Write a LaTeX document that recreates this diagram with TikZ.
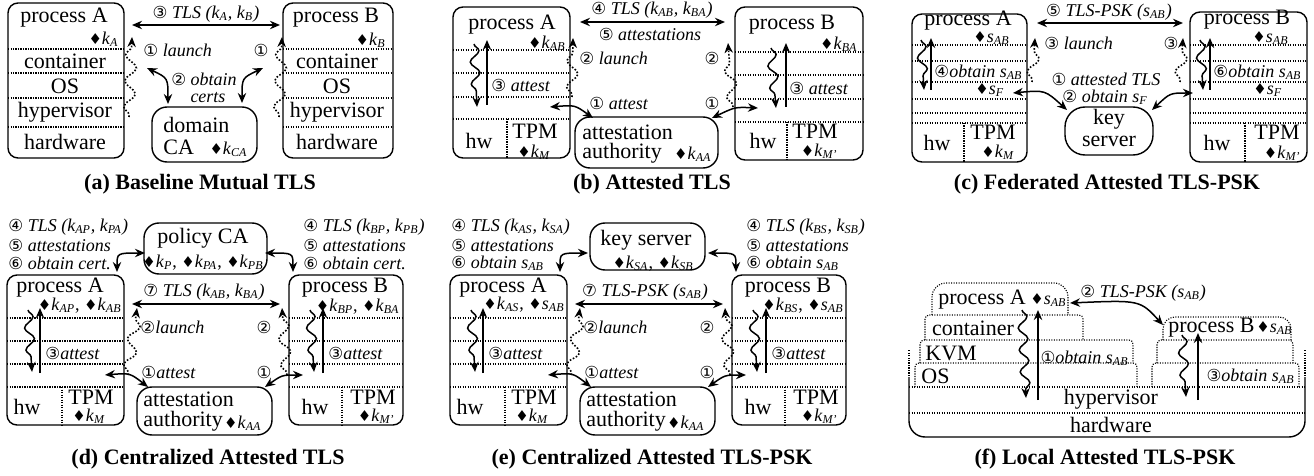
\documentclass[tikz,border=0pt]{standalone}
\usepackage{fontspec}
\setmainfont{Liberation Serif}
\newfontfamily\symfont{DejaVu Sans}
\usetikzlibrary{arrows.meta,decorations.pathmorphing}
\newcommand{\cn}[1]{{\symfont\upshape\fontsize{8.3}{8}\selectfont #1}}
\newcommand{\dm}{{\symfont\upshape\fontsize{7.5}{7}\selectfont ♦}}
\newcommand{\ky}[2]{\textit{#1}\textsubscript{\textit{#2}}}
\newcommand{\dk}[2]{{\fontsize{9}{10}\selectfont\dm\ky{#1}{#2}}}
\tikzset{
  box/.style={line width=0.7pt, rounded corners=5pt},
  layer/.style={line width=0.55pt, dash pattern=on 0.55pt off 0.7pt},
  txt/.style={font=\fontsize{11}{12}\selectfont, inner sep=0pt},
  lbl/.style={font=\fontsize{9}{10}\selectfont\itshape, inner sep=0pt},
  kys/.style={font=\fontsize{9}{10}\selectfont, inner sep=0pt},
  captxt/.style={font=\fontsize{11}{12}\selectfont\bfseries, inner sep=0pt},
  arr/.style={line width=0.75pt, -{Stealth[length=5pt,width=4.2pt]}},
  darr/.style={line width=0.75pt, {Stealth[length=5pt,width=4.2pt]}-{Stealth[length=5pt,width=4.2pt]}},
  wavy/.style={arr, decorate, decoration={snake, amplitude=2.3pt, segment length=11pt, post length=3pt}},
  launch/.style={arr, line width=0.8pt, dash pattern=on 0.8pt off 0.9pt, decorate, decoration={snake, amplitude=2.8pt, segment length=13pt, pre length=1pt, post length=4pt}}
}
% shared part of panels (d) and (e)
\newcommand{\centralbase}[1]{%
  \draw[box] (7,275) rectangle (124,425);
  \foreach \y in {318,341,364,387} \draw[layer] (7,\y) -- (124,\y);
  \draw[layer] (62,387) -- (62,425);
  \node[txt] (#1PA) at (60,288) {process A};
  \node[txt] (#1HWA) at (27,407) {hw};
  \node[txt] (#1TPMA) at (91,397) {TPM};
  \node[kys,anchor=east] (#1KMA) at (106,416) {\dk{k}{M}};
  \draw[wavy] (28,310) -- (32,372);
  \draw[arr] (40,373) -- (40,308);
  \node[lbl,anchor=west] (#1ATA) at (45,353) {\cn{③}attest};
  \draw[box] (289,275) rectangle (403,425);
  \foreach \y in {318,341,364,387} \draw[layer] (289,\y) -- (403,\y);
  \draw[layer] (342,387) -- (342,425);
  \node[txt] (#1PB) at (345,288) {process B};
  \node[txt] (#1HWB) at (315,407) {hw};
  \node[txt] (#1TPMB) at (373,397) {TPM};
  \node[kys,anchor=east] (#1KMB) at (395,416) {\dk{k}{M'}};
  \draw[wavy] (310,310) -- (314,372);
  \draw[arr] (323,373) -- (323,308);
  \node[lbl,anchor=west] (#1ATB) at (328,353) {\cn{③}attest};
  \draw[box, rounded corners=7.5pt] (137,387) rectangle (272,435);
  \node[txt,anchor=west] (#1AA1) at (143,399) {attestation};
  \node[txt,anchor=west] (#1AA2) at (143,421) {authority};
  \node[kys,anchor=east] (#1KAA) at (262,423) {\dk{k}{AA}};
  \coordinate (#1t1) at (132,304); \coordinate (#1t2) at (280,304);
  \draw[darr] (#1t1) -- (#1t2);
  \coordinate (#1l1) at (128,375); \coordinate (#1l2) at (137,308);
  \coordinate (#1l3) at (287,375); \coordinate (#1l4) at (282,308);
  \draw[launch] (#1l1) -- (#1l2);
  \draw[launch] (#1l3) -- (#1l4);
  \node[lbl,anchor=west] (#1LA) at (140,327) {\cn{②}launch};
  \node[lbl,anchor=west] (#1AT) at (141,372) {\cn{①}attest};
  \node[lbl] (#1LB) at (264,327) {\cn{②}};
  \node[lbl] (#1ATR) at (264,372) {\cn{①}};
  \coordinate (#1a1) at (105,375); \coordinate (#1a2) at (148,387);
  \coordinate (#1a3) at (265,387); \coordinate (#1a4) at (303,375);
  \draw[darr] (#1a1) .. controls (130,373) .. (#1a2);
  \draw[darr] (#1a3) .. controls (282,375) .. (#1a4);
  \coordinate (#1p1) at (145,253); \coordinate (#1p2) at (117,272);
  \coordinate (#1p3) at (265,253); \coordinate (#1p4) at (293,272);
  \draw[darr] (#1p1) .. controls (117,253) .. (#1p2);
  \draw[darr] (#1p3) .. controls (293,253) .. (#1p4);
  \node[lbl,anchor=west] (#1L5) at (8,245) {\cn{⑤} attestations};
  \node[lbl,anchor=west] (#1R5) at (303,245) {\cn{⑤} attestations};
}
\begin{document}
\begin{tikzpicture}[x=0.5pt,y=-0.5pt]
\useasboundingbox (0,0) rectangle (1314,476);
%%%%% (a) BASELINE MUTUAL TLS %%%%%
\draw[box] (8,3) rectangle (124,158);
\foreach \y in {49,73,98,127} \draw[layer] (8,\y) -- (124,\y);
\node[txt] (aPA) at (64,18) {process A};
\node[kys,anchor=east] (aKA) at (119,39) {\dk{k}{A}};
\foreach \t/\y in {container/61,OS/86,hypervisor/112,hardware/142}
  \node[txt] (aA\y) at (65,\y) {\t};
\draw[box] (283,3) rectangle (393,158);
\foreach \y in {49,73,98,127} \draw[layer] (283,\y) -- (393,\y);
\node[txt] (aPB) at (336,18) {process B};
\node[kys,anchor=east] (aKB) at (386,40) {\dk{k}{B}};
\foreach \t/\y in {container/61,OS/86,hypervisor/112,hardware/142}
  \node[txt] (aB\y) at (337,\y) {\t};
\draw[box, rounded corners=7.5pt] (152,107) rectangle (257,162);
\node[txt,anchor=west] (aDom) at (163,125) {domain};
\node[txt,anchor=west] (aCA) at (163,147) {CA};
\node[kys,anchor=east] (aKCA) at (248,149) {\dk{k}{CA}};
\coordinate (at1) at (132,25); \coordinate (at2) at (280,25);
\draw[darr] (at1) -- (at2);
\node[lbl] (aTLS) at (206,14) {\cn{③} TLS (\ky{k}{A}, \ky{k}{B})};
\coordinate (al1) at (129,117); \coordinate (al2) at (132,37);
\coordinate (al3) at (279,117); \coordinate (al4) at (282,37);
\draw[launch] (al1) -- (al2);
\draw[launch] (al3) -- (al4);
\node[lbl,anchor=west] (aL) at (143,50) {\cn{①} launch};
\node[lbl] (aR) at (261,50) {\cn{①}};
\node[lbl] (aOb) at (204,79) {\cn{②} obtain};
\node[lbl] (aCe) at (208,98) {certs};
\coordinate (ac1) at (147,68); \coordinate (ac2) at (168,104);
\coordinate (ac3) at (263,68); \coordinate (ac4) at (242,103);
\draw[darr] (ac1) .. controls (168,78) .. (ac2);
\draw[darr] (ac3) .. controls (242,78) .. (ac4);
\node[captxt] (acap) at (200,184) {(a) Baseline Mutual TLS};
%%%%% (b) ATTESTED TLS %%%%%
\draw[box] (453,7) rectangle (570,158);
\foreach \y in {50,73,97,119} \draw[layer] (453,\y) -- (570,\y);
\draw[layer] (507,119) -- (507,158);
\node[txt] (bPA) at (512,25) {process A};
\node[kys,anchor=east] (bKA) at (566,43) {\dk{k}{AB}};
\node[txt] (bHWA) at (479,141) {hw};
\node[txt] (bTPMA) at (535,131) {TPM};
\node[kys,anchor=east] (bKMA) at (551,152) {\dk{k}{M}};
\draw[wavy] (474,44) -- (477,107);
\draw[arr] (487,105) -- (487,40);
\node[lbl,anchor=west] (bATA) at (491,85) {\cn{③} attest};
\draw[box] (735,7) rectangle (863,160);
\foreach \y in {52,75,99,122} \draw[layer] (735,\y) -- (863,\y);
\draw[layer] (787,122) -- (787,160);
\node[txt] (bPB) at (792,25) {process B};
\node[kys,anchor=east] (bKB) at (858,44) {\dk{k}{BA}};
\node[txt] (bHWB) at (763,141) {hw};
\node[txt] (bTPMB) at (815,131) {TPM};
\node[kys,anchor=east] (bKMB) at (838,151) {\dk{k}{M'}};
\draw[wavy] (771,48) -- (776,108);
\draw[arr] (786,107) -- (786,43);
\node[lbl,anchor=west] (bATB) at (789,88) {\cn{③} attest};
\draw[box, rounded corners=7.5pt] (575,117) rectangle (718,168);
\node[txt,anchor=west] (bAA1) at (582,132) {attestation};
\node[txt,anchor=west] (bAA2) at (582,153) {authority};
\node[kys,anchor=east] (bKAA) at (712,154) {\dk{k}{AA}};
\coordinate (bt1) at (580,22); \coordinate (bt2) at (725,22);
\draw[darr] (bt1) -- (bt2);
\node[lbl] (bTLS) at (652,10) {\cn{④} TLS (\ky{k}{AB}, \ky{k}{BA})};
\node[lbl] (bATT) at (650,34) {\cn{⑤} attestations};
\coordinate (bl1) at (572,97); \coordinate (bl2) at (573,38);
\coordinate (bl3) at (733,107); \coordinate (bl4) at (728,43);
\draw[launch] (bl1) -- (bl2);
\draw[launch] (bl3) -- (bl4);
\node[lbl,anchor=west] (bL) at (579,58) {\cn{②} launch};
\node[lbl,anchor=west] (bA) at (589,103) {\cn{①} attest};
\node[lbl] (bLR) at (712,58) {\cn{②}};
\node[lbl] (bAR) at (712,103) {\cn{①}};
\coordinate (ba1) at (550,107); \coordinate (ba2) at (593,118);
\coordinate (ba3) at (712,118); \coordinate (ba4) at (758,108);
\draw[darr] (ba1) .. controls (575,105) .. (ba2);
\draw[darr] (ba3) .. controls (735,107) .. (ba4);
\node[captxt] (bcap) at (652,184) {(b) Attested TLS};
%%%%% (c) FEDERATED ATTESTED TLS-PSK %%%%%
\draw[box] (912,14) rectangle (1027,162);
\foreach \y in {45,61,82,99,113,123} \draw[layer] (912,\y) -- (1027,\y);
\draw[layer] (964,123) -- (964,162);
\node[txt] (cPA) at (968,21) {process A};
\node[kys,anchor=east] (cSA) at (1010,38) {\dk{s}{AB}};
\node[kys,anchor=west] (cFA) at (975,90) {\dk{s}{F}};
\node[txt] (cHWA) at (937,143) {hw};
\node[txt] (cTPMA) at (993,132) {TPM};
\node[kys,anchor=east] (cKMA) at (1015,152) {\dk{k}{M}};
\draw[wavy] (921,40) -- (924,90);
\draw[arr] (931,90) -- (931,38);
\node[lbl,anchor=west] (cOA) at (934,72) {\cn{④}obtain \ky{s}{AB}};
\draw[box] (1190,12) rectangle (1307,162);
\foreach \y in {45,61,82,99,113,123} \draw[layer] (1190,\y) -- (1307,\y);
\draw[layer] (1245,123) -- (1245,162);
\node[txt] (cPB) at (1247,20) {process B};
\node[kys,anchor=east] (cSB) at (1289,38) {\dk{s}{AB}};
\node[kys,anchor=west] (cFB) at (1253,90) {\dk{s}{F}};
\node[txt] (cHWB) at (1217,143) {hw};
\node[txt] (cTPMB) at (1277,132) {TPM};
\node[kys,anchor=east] (cKMB) at (1301,153) {\dk{k}{M'}};
\draw[wavy] (1200,40) -- (1203,90);
\draw[arr] (1210,90) -- (1210,38);
\node[lbl,anchor=west] (cOB) at (1213,72) {\cn{⑥}obtain \ky{s}{AB}};
\draw[box, rounded corners=10pt] (1065,107) rectangle (1153,155);
\node[txt] (cKey) at (1109,119) {key};
\node[txt] (cSrv) at (1109,141) {server};
\coordinate (ct1) at (1037,23); \coordinate (ct2) at (1183,23);
\draw[darr] (ct1) -- (ct2);
\node[lbl] (cTLS) at (1109,12) {\cn{⑤} TLS-PSK (\ky{s}{AB})};
\coordinate (cl1) at (1032,82); \coordinate (cl2) at (1035,38);
\coordinate (cl3) at (1180,82); \coordinate (cl4) at (1183,38);
\draw[launch] (cl1) -- (cl2);
\draw[launch] (cl3) -- (cl4);
\node[lbl,anchor=west] (cL) at (1044,43) {\cn{③} launch};
\node[lbl] (cLR) at (1171,43) {\cn{③}};
\node[lbl] (cAT) at (1106,79) {\cn{①} attested TLS};
\node[lbl] (cOF) at (1105,97) {\cn{②} obtain \ky{s}{F}};
\coordinate (ca1) at (1013,93); \coordinate (ca2) at (1067,110);
\coordinate (ca3) at (1152,110); \coordinate (ca4) at (1193,93);
\draw[darr] (ca1) .. controls (1045,90) .. (ca2);
\draw[darr] (ca3) .. controls (1170,93) .. (ca4);
\node[captxt] (ccap) at (1107,184) {(c) Federated Attested TLS-PSK};
%%%%% (d) CENTRALIZED ATTESTED TLS %%%%%
\begin{scope}
\centralbase{d}
\node[lbl,anchor=west] (dL4) at (8,227) {\cn{④} TLS (\ky{k}{AP}, \ky{k}{PA})};
\node[lbl,anchor=west] (dL6) at (8,263) {\cn{⑥} obtain cert.};
\node[lbl,anchor=west] (dR4) at (303,227) {\cn{④} TLS (\ky{k}{BP}, \ky{k}{PB})};
\node[lbl,anchor=west] (dR6) at (303,263) {\cn{⑥} obtain cert.};
\draw[box, rounded corners=7.5pt] (144,223) rectangle (267,274);
\node[txt] (dPCA) at (203,238) {policy CA};
\node[kys] (dPK) at (203,263) {\dk{k}{P}, \dk{k}{PA}, \dk{k}{PB}};
\node[kys,anchor=east] (dKA) at (122,306) {\dk{k}{AP}, \dk{k}{AB}};
\node[kys,anchor=east] (dKB) at (400,307) {\dk{k}{BP}, \dk{k}{BA}};
\node[lbl] (dTLS) at (204,292) {\cn{⑦} TLS (\ky{k}{AB}, \ky{k}{BA})};
\node[captxt] (dcap) at (208,459) {(d) Centralized Attested TLS};
\end{scope}
%%%%% (e) CENTRALIZED ATTESTED TLS-PSK %%%%%
\begin{scope}[shift={(443,0)}]
\centralbase{e}
\node[lbl,anchor=west] (eL4) at (8,227) {\cn{④} TLS (\ky{k}{AS}, \ky{k}{SA})};
\node[lbl,anchor=west] (eL6) at (8,263) {\cn{⑥} obtain \ky{s}{AB}};
\node[lbl,anchor=west] (eR4) at (303,227) {\cn{④} TLS (\ky{k}{BS}, \ky{k}{SB})};
\node[lbl,anchor=west] (eR6) at (303,263) {\cn{⑥} obtain \ky{s}{AB}};
\draw[box, rounded corners=7.5pt] (147,223) rectangle (262,270);
\node[txt] (eKS) at (203,240) {key server};
\node[kys,anchor=east] (eSK) at (251,264) {\dk{k}{SA}, \dk{k}{SB}};
\node[kys,anchor=east] (eKA) at (122,305) {\dk{k}{AS}, \dk{s}{AB}};
\node[kys,anchor=east] (eKB) at (401,306) {\dk{k}{BS}, \dk{s}{AB}};
\node[lbl] (eTLS) at (202,292) {\cn{⑦} TLS-PSK (\ky{s}{AB})};
\node[captxt] (ecap) at (209,459) {(e) Centralized Attested TLS-PSK};
\end{scope}
%%%%% (f) LOCAL ATTESTED TLS-PSK %%%%%
\draw[box, rounded corners=8pt] (909,377) -- (909,437) -- (1305,437) -- (1305,377);
\draw[layer] (909,350) -- (909,377);
\draw[layer] (1305,350) -- (1305,377);
\draw[layer] (909,387) -- (1305,387);
\draw[layer] (909,413) -- (1305,413);
\draw[layer, rounded corners=2pt] (915,387) -- (915,363) -- (1137,363) -- (1137,387);
\draw[layer, rounded corners=2pt] (920,363) -- (920,340) -- (1133,340) -- (1133,363);
\draw[layer, rounded corners=2pt] (925,340) -- (925,315) -- (1083,315) -- (1083,340);
\draw[layer, rounded corners=7pt] (932,315) -- (932,283) -- (1068,283) -- (1068,315);
\draw[layer, rounded corners=2pt] (1152,387) -- (1152,363) -- (1299,363) -- (1299,387);
\draw[layer, rounded corners=2pt] (1157,363) -- (1157,340) -- (1293,340) -- (1293,363);
\draw[layer, rounded corners=6pt] (1163,340) -- (1163,317) -- (1291,317) -- (1291,340);
\node[txt,anchor=west] (fPA) at (938,300) {process A};
\node[kys,anchor=west] (fSA) at (1030,300) {\dk{s}{AB}};
\node[txt] (fCon) at (973,328) {container};
\node[txt,anchor=west] (fKVM) at (925,353) {KVM};
\node[txt,anchor=west] (fOS) at (921,376) {OS};
\node[txt,anchor=west] (fPB) at (1168,328) {process B};
\node[kys,anchor=west] (fSB) at (1256,328) {\dk{s}{AB}};
\node[txt] (fHyp) at (1111,399) {hypervisor};
\node[txt] (fHw) at (1111,425) {hardware};
\node[lbl,anchor=east] (fOA) at (1129,358) {\cn{①}obtain \ky{s}{AB}};
\node[lbl,anchor=east] (fOB) at (1295,376) {\cn{③}obtain \ky{s}{AB}};
\draw[wavy] (1022,310) -- (1026,398);
\draw[arr] (1038,400) -- (1038,310);
\draw[wavy] (1182,335) -- (1186,397);
\draw[arr] (1198,400) -- (1198,333);
\coordinate (ft1) at (1070,303); \coordinate (ft2) at (1163,325);
\draw[darr] (ft1) .. controls (1140,300) .. (ft2);
\node[lbl,anchor=west] (fTLS) at (1080,293) {\cn{②} TLS-PSK (\ky{s}{AB})};
\node[captxt] (fcap) at (1105,459) {(f) Local Attested TLS-PSK};
\end{tikzpicture}
\end{document}
